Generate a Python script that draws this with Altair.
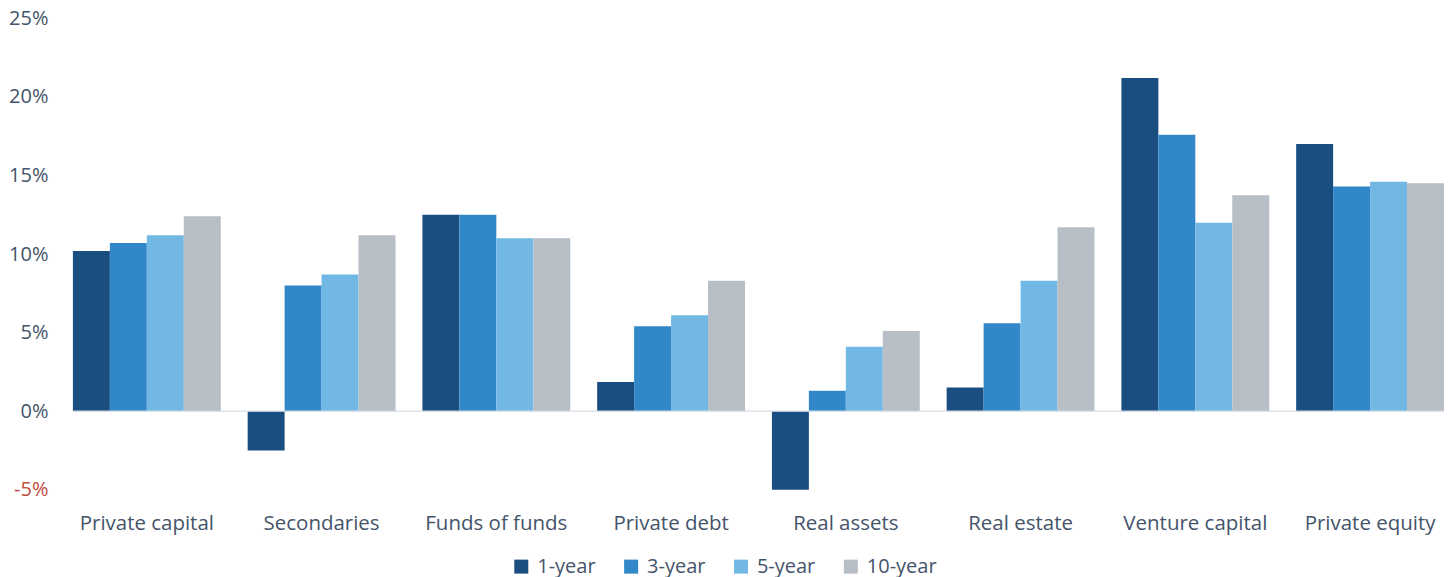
import altair as alt
import pandas as pd

categories = ["Private capital", "Secondaries", "Funds of funds", "Private debt",
              "Real assets", "Real estate", "Venture capital", "Private equity"]
series = ["1-year", "3-year", "5-year", "10-year"]
one_year = [10.2, -2.5, 12.5, 1.85, -5.0, 1.5, 21.2, 17.0]
three_year = [10.7, 8.0, 12.5, 5.4, 1.3, 5.6, 17.6, 14.3]
five_year = [11.2, 8.7, 11.0, 6.1, 4.1, 8.3, 12.0, 14.6]
ten_year = [12.4, 11.2, 11.0, 8.3, 5.1, 11.7, 13.75, 14.5]
y_ticks = [-5, 0, 5, 10, 15, 20, 25]
colors = ["#1A4E80", "#3187C8", "#72B8E5", "#B7BEC6"]

rows = []
for s, vals in zip(series, [one_year, three_year, five_year, ten_year]):
    for c, v in zip(categories, vals):
        rows.append({"category": c, "series": s, "value": v})
df = pd.DataFrame(rows)

FONT = "Open Sans"
TEXT = "#44546A"

bars = alt.Chart(df).mark_bar().encode(
    x=alt.X("category:N", sort=categories, title=None,
            scale=alt.Scale(paddingInner=0.154, paddingOuter=0),
            axis=alt.Axis(orient="bottom", domain=False, ticks=False, labelAngle=0,
                          labelPadding=24, labelFontSize=20.5, labelFont=FONT,
                          labelColor=TEXT)),
    xOffset=alt.XOffset("series:N", sort=series, scale=alt.Scale(paddingInner=0, paddingOuter=0)),
    y=alt.Y("value:Q", title=None,
            scale=alt.Scale(domain=[-5, 25], nice=False, zero=False),
            axis=alt.Axis(values=y_ticks, grid=False, domain=False, ticks=False,
                          labelExpr="datum.value + '%'", labelPadding=25,
                          labelFontSize=20, labelFont=FONT,
                          labelColor={"condition": {"test": "datum.value < 0", "value": "#BE4B3C"},
                                      "value": TEXT})),
    color=alt.Color("series:N", sort=series,
                    scale=alt.Scale(domain=series, range=colors),
                    legend=alt.Legend(title=None, orient="none", direction="horizontal",
                                      legendX=439, legendY=539, symbolType="square",
                                      symbolSize=196, symbolStrokeWidth=0,
                                      labelFontSize=20, labelFont=FONT, labelColor=TEXT,
                                      labelOffset=6, columnPadding=25, padding=0)),
)

zero = alt.Chart(pd.DataFrame({"z": [0]})).mark_rule(color="#D6DCE4", strokeWidth=1.2).encode(
    y=alt.Y("z:Q")
)

chart = alt.layer(bars, zero).properties(
    width=1373, height=472,
    padding={"left": 65, "top": 10, "right": 0, "bottom": 95},
    autosize="none",
).configure(background="white").configure_view(stroke=None)

chart.save("out.html", embed_options={"renderer": "svg", "actions": False})
